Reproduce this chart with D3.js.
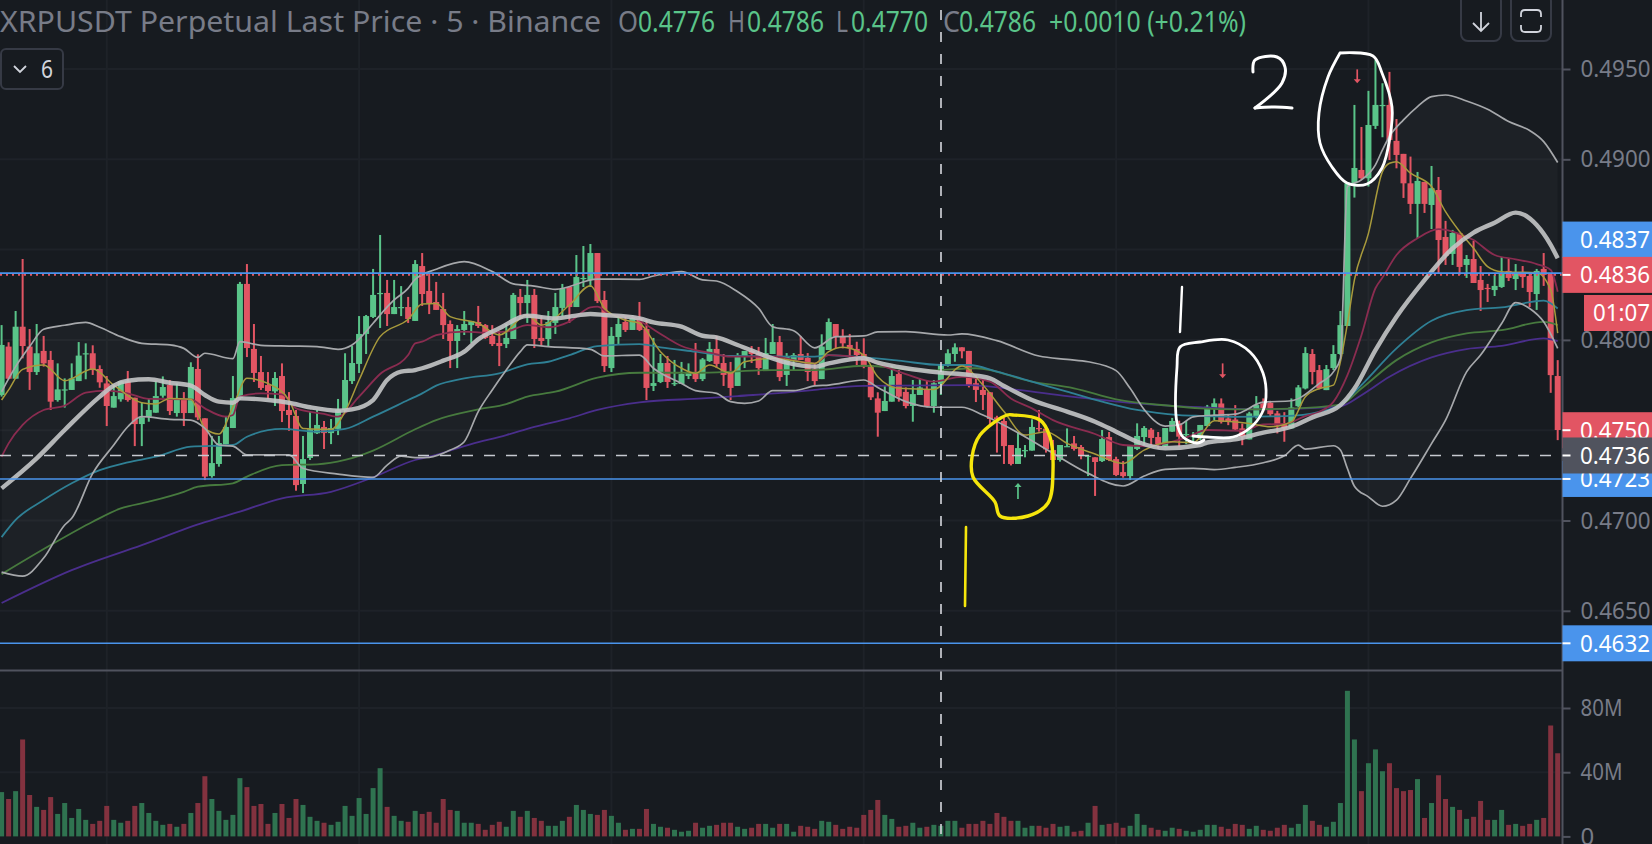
<!DOCTYPE html>
<html><head><meta charset="utf-8">
<script src="https://cdn.jsdelivr.net/npm/d3@7"></script>
<style>html,body{margin:0;background:#171b20;overflow:hidden}svg{display:block}</style>
</head><body><svg id="chart" width="1652" height="844"></svg>
<script>
// Quotes are stored in hundred-thousandths of a dollar (47695 = 0.47695).
const QUOTE_UNIT = 1e-5;

const opens = [47695,47963,47785,48073,47963,47822,47939,47889,47667,47723,47723,47772,47924,47926,47839,47759,47625,47671,47771,47680,47534,47575,47597,47691,47750,47595,47671,47595,47839,47566,47246,47313,47422,47512,47678,48310,47950,47822,47750,47715,47800,47612,47579,47202,47346,47483,47518,47484,47507,47612,47772,47867,48033,48127,48258,48260,48143,48180,48182,48105,48409,48271,48210,48171,48088,47994,48055,48082,48099,48082,48022,47983,47977,48005,48238,48204,48249,48011,48005,48094,48177,48293,48182,48341,48332,48481,48221,47844,48016,48099,48055,48121,48060,47745,47767,47872,47759,47756,47800,47822,47783,47883,47950,47872,47822,47745,47905,47939,47927,47833,47922,47988,47806,47889,47922,47900,47839,47783,47944,48088,48022,47972,47950,47922,47861,47676,47606,47658,47811,47712,47634,47695,47728,47634,47756,47857,47922,47959,47939,47760,47723,47710,47571,47551,47418,47313,47388,47387,47512,47508,47390,47335,47410,47427,47407,47357,47350,47329,47462,47340,47268,47246,47396,47462,47503,47462,47412,47492,47538,47477,47466,47464,47523,47621,47648,47565,47559,47510,47449,47574,47648,47652,47593,47537,47510,47633,47731,47922,47833,47722,47844,47922,48077,48867,48941,48895,49185,49299,49301,49102,49030,48867,48753,48875,48747,48830,48570,48476,48592,48415,48448,48332,48288,48276,48293,48382,48337,48371,48354,48254,48393,48369,47800];
const highs = [48082,47987,48160,48448,48060,48088,48022,47939,47870,47787,47870,47988,47981,47970,47859,47800,47750,47771,47828,47680,47652,47676,47771,47798,47778,47759,47711,47876,47920,47566,47468,47468,47579,47800,48321,48420,48088,47911,47822,47822,47870,47711,47612,47468,47601,47612,47551,47562,47673,47926,47966,48132,48138,48393,48581,48332,48332,48298,48238,48442,48481,48365,48321,48260,48108,48082,48160,48105,48188,48088,48082,48049,48088,48260,48282,48332,48282,48132,48160,48260,48310,48298,48470,48520,48531,48481,48271,48071,48132,48132,48138,48210,48110,48011,47922,47911,47889,47878,47870,47983,47900,47988,48022,47922,47878,47927,47939,47966,47961,48011,48088,48022,47927,47927,48022,47927,47872,48031,48119,48088,48059,48033,47990,48009,47861,47710,47750,47857,47833,47737,47778,47787,47778,47778,47861,47948,47981,47959,47939,47806,47778,47710,47580,47571,47418,47490,47418,47560,47612,47520,47446,47418,47510,47468,47418,47363,47350,47501,47490,47353,47329,47412,47538,47523,47512,47490,47512,47568,47553,47551,47490,47529,47640,47676,47676,47589,47639,47537,47602,47689,47676,47657,47607,47600,47676,47750,47960,47949,47861,47861,47971,48160,48867,49301,49179,49379,49550,49421,49484,49223,49030,49015,48930,48875,48963,48902,48659,48609,48592,48470,48548,48409,48310,48360,48459,48448,48420,48409,48376,48393,48481,48369,47888];
const lows = [47686,47782,47785,47898,47723,47806,47852,47612,47658,47625,47723,47772,47782,47806,47735,47523,47625,47658,47658,47412,47412,47547,47597,47680,47584,47575,47523,47595,47556,47224,47237,47298,47422,47512,47667,47905,47767,47723,47673,47634,47545,47497,47165,47152,47335,47479,47396,47423,47473,47601,47756,47817,47922,48121,48066,48077,48143,48132,48094,48105,48188,48143,48166,48005,47844,47844,48027,47983,48066,48005,47966,47855,47955,48005,48121,48094,47955,47966,47966,48033,48132,48094,48182,48293,48293,48204,47822,47822,47977,48044,48055,48049,47667,47717,47761,47734,47745,47756,47783,47767,47772,47878,47844,47745,47667,47745,47844,47872,47806,47833,47922,47772,47745,47833,47889,47772,47745,47783,47944,47953,47953,47898,47861,47843,47667,47464,47606,47658,47658,47621,47547,47695,47627,47597,47695,47852,47879,47898,47737,47656,47612,47529,47376,47313,47305,47313,47350,47387,47492,47376,47316,47326,47409,47387,47339,47246,47136,47324,47329,47246,47237,47224,47390,47409,47412,47396,47407,47490,47409,47423,47427,47446,47523,47556,47537,47528,47497,47417,47449,47565,47602,47574,47482,47436,47510,47626,47726,47754,47726,47722,47833,47916,48077,48788,48886,48849,49168,49122,48996,48950,48786,48697,48564,48703,48614,48365,48415,48415,48360,48343,48315,48160,48210,48243,48288,48326,48276,48288,48182,48166,48299,47707,47445];
const closes = [47972,47785,48073,47966,47822,47926,47870,47658,47726,47726,47787,47913,47926,47833,47765,47634,47689,47771,47667,47534,47571,47612,47689,47739,47606,47678,47595,47850,47571,47243,47318,47429,47518,47678,48310,47955,47817,47734,47717,47789,47606,47584,47196,47340,47505,47529,47484,47512,47614,47778,47872,48033,48132,48249,48260,48143,48182,48182,48116,48420,48254,48204,48166,48082,47994,48060,48088,48105,48077,48011,47977,47966,48011,48249,48204,48249,48005,47994,48099,48182,48282,48182,48348,48343,48481,48215,47855,48022,48088,48055,48121,48055,47734,47761,47872,47767,47761,47811,47822,47783,47892,47950,47867,47806,47734,47911,47939,47922,47844,47927,47988,47794,47911,47916,47889,47822,47772,47963,48099,48018,47981,47953,47916,47852,47682,47597,47662,47800,47686,47634,47700,47737,47634,47760,47861,47926,47959,47937,47745,47723,47695,47562,47560,47412,47313,47401,47390,47518,47510,47394,47335,47418,47412,47396,47357,47359,47324,47451,47335,47252,47246,47412,47468,47512,47457,47423,47512,47551,47464,47479,47468,47529,47630,47649,47546,47546,47504,47463,47593,47639,47620,47589,47526,47510,47626,47737,47927,47822,47731,47838,47922,48082,48867,48952,48895,49190,49301,49301,49107,49024,48867,48753,48880,48753,48840,48553,48465,48592,48404,48448,48315,48276,48286,48299,48365,48343,48365,48348,48265,48382,48360,47805,47501];

// Volume per candle, in millions.
const volumes = [27.6,23.3,28.2,60.4,25.8,18.4,16.5,24.5,14,20.8,11.5,17.1,10.3,7.8,9.7,19,10.3,8.5,9.7,19,20.8,14.6,9.7,7.2,7.8,6,7.8,14.6,20.8,37.5,23.3,15.9,10.3,13.4,36.3,30.7,19,20.2,7.8,14.6,20.2,11.5,23.3,19.6,12.2,9.7,8.5,7.2,9.1,19,12.8,23.9,14,30.1,42.5,18.4,12.8,9.7,9.1,15.9,14,15.3,8.5,23.3,16.5,15.9,8.5,8.5,7.8,4.1,7.2,9.1,6,15.9,12.2,15.9,11.5,9.7,6.6,6.6,9.7,12.2,19.6,16.5,14,13.4,16.5,12.8,8.5,4.1,4.7,4.7,17.1,7.8,6,5.4,4.1,2.9,3.5,8.5,5.4,6.6,7.2,8.5,8.5,6,4.7,5.4,7.8,7.8,5.4,7.8,7.8,2.9,6.6,6,4.7,9.7,9.1,7.2,4.7,6,5.4,13.4,16.5,22.7,13.4,10.9,6,6.6,8.5,5.4,6,7.2,6.6,9.7,9.7,5.4,7.8,7.8,9.7,7.8,14.6,12.2,9.7,9.7,5.4,6.6,6.6,5.4,7.8,6,6.6,2.9,3.5,8.5,19,7.2,7.8,8.5,5.4,6.6,14,7.2,5.4,4.1,3.5,5.4,4.7,3.5,2.9,4.1,7.2,7.2,6,4.7,7.8,7.2,4.7,6.6,4.1,3.5,5.4,7.2,5.4,7.8,19.6,9.7,7.2,6,9.1,20.8,90.7,60.4,28.2,45.6,54.2,40.6,45.6,30.1,28.2,28.9,35.7,11.5,20.8,38.1,23.3,18.4,16.5,10.9,12.2,22.1,10.3,10.3,16.5,7.2,7.8,6.6,7.8,10.3,11.5,69.1,51.8];

// Indicator readings as [candle index, quote].
const upperBand = [[0,47713],[2,47852],[4,47963],[6,48059],[9,48081],[12,48097],[14,48070],[17,48018],[20,47981],[24,47972],[26,47953],[28,47903],[29,47926],[33,47896],[34,47990],[37,47970],[41,47966],[45,47963],[48,47948],[50,47972],[53,48092],[54,48138],[56,48221],[58,48285],[59,48335],[62,48391],[66,48433],[70,48378],[73,48310],[76,48298],[79,48280],[85,48337],[91,48335],[93,48354],[97,48378],[100,48332],[102,48326],[105,48267],[108,48175],[110,48073],[113,48051],[116,47956],[119,48018],[123,48022],[125,48044],[129,48046],[135,48027],[137,48033],[142,47996],[148,47911],[152,47892],[155,47879],[159,47830],[161,47732],[163,47615],[166,47523],[168,47529],[170,47574],[173,47583],[176,47589],[180,47655],[184,47663],[188,47759],[190,47823],[191,47897],[192,48849],[194,48886],[196,48969],[197,49052],[198,49126],[200,49218],[202,49292],[204,49347],[206,49356],[209,49323],[212,49277],[215,49209],[218,49159],[220,49098],[222,48982]];
const lowerBand = [[0,46714],[3,46692],[6,46792],[9,46975],[10,47012],[13,47261],[16,47418],[18,47519],[20,47575],[24,47560],[27,47556],[29,47510],[31,47418],[33,47412],[35,47363],[41,47363],[43,47289],[48,47257],[53,47239],[55,47307],[57,47357],[59,47348],[61,47350],[64,47390],[66,47436],[68,47603],[70,47723],[72,47833],[74,47935],[75,47972],[78,47963],[84,47948],[86,47911],[91,47916],[93,47843],[97,47759],[99,47719],[102,47704],[104,47658],[106,47649],[108,47662],[110,47719],[113,47719],[116,47745],[118,47750],[123,47778],[125,47737],[129,47658],[133,47627],[137,47627],[140,47584],[146,47464],[150,47372],[155,47261],[160,47191],[163,47246],[166,47283],[170,47289],[173,47282],[176,47294],[180,47320],[183,47358],[185,47417],[186,47395],[190,47414],[191,47390],[192,47288],[193,47190],[195,47131],[197,47079],[199,47113],[201,47233],[204,47426],[206,47556],[209,47823],[211,47916],[214,48091],[216,48206],[218,48174],[220,48100],[222,47953]];
const fastAverage = [[0,47667],[1,47723],[3,47837],[6,47861],[9,47774],[13,47839],[16,47750],[20,47652],[22,47645],[24,47676],[27,47671],[29,47510],[31,47479],[33,47630],[35,47787],[38,47759],[41,47667],[43,47510],[47,47505],[49,47603],[51,47778],[54,48018],[58,48114],[60,48199],[62,48202],[64,48129],[68,48092],[71,48027],[75,48138],[77,48082],[81,48193],[84,48300],[86,48175],[89,48110],[91,48092],[94,47935],[97,47843],[99,47815],[101,47861],[104,47815],[106,47879],[110,47898],[116,47870],[118,47935],[120,47959],[123,47916],[125,47796],[128,47732],[133,47726],[137,47855],[140,47750],[143,47603],[146,47473],[149,47492],[152,47427],[156,47368],[160,47316],[163,47390],[167,47436],[170,47431],[173,47552],[178,47537],[181,47519],[184,47546],[186,47685],[188,47731],[190,47750],[191,47879],[192,48091],[193,48332],[195,48590],[197,48932],[198,48978],[199,48987],[201,48923],[204,48849],[206,48710],[208,48600],[210,48507],[212,48406],[214,48378],[219,48372],[221,48276],[222,48037]];
const crimsonAverage = [[0,47353],[1,47427],[3,47529],[6,47612],[9,47636],[12,47708],[15,47719],[18,47704],[21,47673],[27,47671],[29,47621],[32,47575],[33,47584],[34,47686],[37,47704],[40,47698],[42,47621],[46,47590],[48,47575],[51,47686],[54,47811],[58,47916],[59,47981],[60,47990],[62,48027],[66,48046],[69,48040],[72,48046],[75,48082],[78,48070],[81,48101],[84,48180],[85,48184],[87,48138],[90,48129],[92,48082],[95,48009],[97,47966],[101,47929],[104,47907],[110,47907],[116,47870],[118,47916],[123,47898],[126,47852],[129,47811],[133,47769],[137,47796],[141,47769],[144,47676],[147,47621],[150,47556],[156,47479],[160,47418],[163,47412],[166,47427],[169,47460],[172,47501],[177,47497],[180,47532],[183,47534],[186,47578],[188,47602],[190,47657],[192,47805],[194,48026],[196,48286],[197,48345],[199,48470],[202,48563],[205,48613],[207,48600],[210,48553],[213,48470],[216,48446],[219,48420],[221,48387],[222,48267]];
const basisAverage = [[0,47178],[5,47344],[9,47501],[14,47686],[16,47747],[18,47774],[21,47782],[24,47763],[27,47747],[29,47695],[31,47658],[33,47652],[34,47676],[38,47667],[41,47652],[44,47627],[48,47608],[50,47615],[53,47667],[55,47778],[57,47824],[59,47833],[60,47843],[63,47885],[66,47935],[68,48003],[71,48064],[75,48134],[79,48119],[81,48129],[84,48143],[86,48138],[91,48119],[93,48097],[97,48073],[100,48023],[102,48014],[105,47972],[109,47911],[112,47874],[116,47852],[118,47870],[123,47898],[125,47874],[129,47843],[134,47819],[138,47806],[141,47787],[143,47745],[147,47667],[152,47603],[156,47547],[159,47492],[162,47436],[166,47400],[171,47418],[172,47432],[176,47449],[180,47486],[184,47519],[187,47571],[191,47639],[193,47731],[196,47944],[199,48128],[203,48331],[207,48507],[210,48594],[213,48649],[216,48705],[219,48636],[221,48526],[222,48452]];
const tealAverage = [[0,46908],[2,47003],[6,47113],[10,47206],[14,47279],[18,47322],[22,47353],[27,47409],[33,47418],[35,47464],[40,47507],[45,47492],[49,47507],[53,47575],[58,47667],[60,47704],[62,47747],[66,47787],[71,47815],[75,47865],[78,47879],[81,47916],[85,47966],[91,47977],[94,47959],[99,47935],[104,47911],[116,47907],[118,47916],[123,47903],[128,47885],[134,47861],[138,47861],[142,47824],[147,47769],[152,47713],[157,47658],[162,47612],[168,47584],[171,47579],[176,47574],[183,47578],[188,47602],[191,47639],[194,47750],[199,47953],[204,48106],[209,48165],[214,48180],[220,48217],[222,48174]];
const greenAverage = [[0,46703],[7,46864],[13,46993],[17,47067],[21,47104],[26,47159],[28,47187],[33,47206],[35,47243],[40,47307],[45,47311],[49,47335],[53,47387],[59,47505],[62,47556],[68,47615],[72,47645],[75,47686],[79,47713],[85,47791],[91,47818],[100,47818],[110,47833],[116,47833],[123,47857],[132,47830],[139,47843],[147,47769],[153,47732],[159,47671],[167,47634],[171,47621],[176,47615],[184,47620],[191,47642],[194,47731],[199,47888],[204,47986],[209,48036],[214,48054],[220,48100],[222,48082]];
const purpleAverage = [[0,46543],[10,46725],[20,46864],[29,46991],[34,47049],[40,47123],[47,47159],[53,47239],[59,47335],[61,47353],[67,47423],[72,47473],[76,47519],[81,47566],[85,47612],[91,47654],[100,47676],[105,47689],[116,47723],[118,47732],[123,47745],[138,47750],[145,47723],[152,47689],[162,47649],[171,47627],[178,47615],[185,47620],[191,47633],[194,47694],[198,47796],[204,47903],[209,47949],[214,47967],[220,48008],[222,47993]];

// Alert arrows: [candle index, tail quote, tip quote].
const upArrows = [[145,47119,47207]];
const downArrows = [[193.4,49498,49421],[174.2,47870,47787]];

const priceTicks = [0.495,0.49,0.485,0.48,0.475,0.47,0.465];
const axisTickLabels = [0.495,0.49,0.48,0.47,0.465];
const volumeTicks = [40,80];
const verticalGridCandles = [15,51,87,123,159,195];
const levelPrices = {blueUpper:0.4837, last:0.4836, bar:0.4750, crosshair:0.4736, blueMid:0.4723, blueLower:0.4632};

const BG="#171b20", GREEN="#5ac489", RED="#e25563", BLUE="#4a94ec", GRID="#1e2228",
      AXIS="#50535e", MUTED="#787c88", VOL_GREEN="#2f7350", VOL_RED="#83323f";
const FONT="'Noto Sans', sans-serif";
const LEFT=0, AXIS_X=1562.5, WIDTH=1652, HEIGHT=844, PANE_TOP=670.5;

const svg=d3.select("#chart").style("font-family",FONT);
svg.append("rect").attr("width",WIDTH).attr("height",HEIGHT).attr("fill",BG);

const x=d3.scaleLinear().domain([0,opens.length-1]).range([1.6,1557.7]);
const y=d3.scaleLinear().domain([0.465,0.495]).range([610.8,69]);
const yVol=d3.scaleLinear().domain([0,80]).range([836.4,708]);
const py=q=>y(q*QUOTE_UNIT);

// grid
const grid=svg.append("g").attr("stroke",GRID).attr("stroke-width",2);
grid.selectAll("line.h").data(priceTicks).join("line").attr("x1",LEFT).attr("x2",AXIS_X).attr("y1",y).attr("y2",y);
grid.selectAll("line.vv").data(volumeTicks,d=>"v"+d).join("line").attr("x1",LEFT).attr("x2",AXIS_X).attr("y1",yVol).attr("y2",yVol);
grid.selectAll("line.v").data(verticalGridCandles,d=>"c"+d).join("line").attr("x1",d=>x(d)).attr("x2",d=>x(d)).attr("y1",0).attr("y2",HEIGHT);

// Bollinger fill and lines
const curve=d3.curveMonotoneX;
const line=d3.line().x(d=>x(d[0])).y(d=>py(d[1])).curve(curve);
const loop=line(upperBand)+"L"+line(lowerBand.slice().reverse()).slice(1)+"Z";
svg.append("path").attr("d",loop).attr("fill","#ffffff").attr("fill-opacity",0.028);

// volume bars
const isUp=i=>closes[i]>=opens[i];
svg.append("g").selectAll("rect").data(volumes).join("rect")
  .attr("x",(d,i)=>x(i)-2.5).attr("width",5)
  .attr("y",d=>yVol(d)).attr("height",d=>yVol(0)-yVol(d))
  .attr("fill",(d,i)=>isUp(i)?VOL_GREEN:VOL_RED);

// candles
const candles=svg.append("g").selectAll("g").data(opens).join("g")
  .attr("fill",(d,i)=>isUp(i)?GREEN:RED);
candles.append("rect").attr("x",(d,i)=>x(i)-1).attr("width",2)
  .attr("y",(d,i)=>y(highs[i]*QUOTE_UNIT)).attr("height",(d,i)=>y(lows[i]*QUOTE_UNIT)-y(highs[i]*QUOTE_UNIT));
candles.append("rect").attr("x",(d,i)=>x(i)-3).attr("width",6)
  .attr("y",(d,i)=>py(Math.max(opens[i],closes[i])))
  .attr("height",(d,i)=>Math.max(1.2,Math.abs(py(opens[i])-py(closes[i]))));

// indicators
const drawn=[[purpleAverage,"#4a2e8c",1.8],[greenAverage,"#477a3e",1.8],[tealAverage,"#2f8095",1.8],
  [crimsonAverage,"#8a2c50",1.8],[fastAverage,"#a89a3c",1.5],[upperBand,"#a6a8ab",1.7],[lowerBand,"#a6a8ab",1.7]];
drawn.forEach(([d,c,w])=>svg.append("path").attr("d",line(d)).attr("fill","none").attr("stroke",c).attr("stroke-width",w));
svg.append("path").attr("d",line(basisAverage)).attr("fill","none").attr("stroke","#c4c5c7").attr("stroke-opacity",0.9).attr("stroke-width",4.4);

// horizontal price levels
const hl=(p,c,w,dash)=>svg.append("line").attr("x1",0).attr("x2",AXIS_X).attr("y1",y(p)).attr("y2",y(p))
  .attr("stroke",c).attr("stroke-width",w).attr("stroke-dasharray",dash||null);
hl(levelPrices.blueUpper,BLUE,1.6);
hl(levelPrices.last,RED,1.6,"2,4");
hl(levelPrices.blueMid,BLUE,1.6);
hl(levelPrices.blueLower,BLUE,1.6);
hl(levelPrices.crosshair,"#c6c9d0",1.4,"11,11");

// crosshair
svg.append("line").attr("x1",941).attr("x2",941).attr("y1",10).attr("y2",HEIGHT)
  .attr("stroke","#d6d8de").attr("stroke-width",1.6).attr("stroke-dasharray","10,12");

// alert arrows
function arrow(a,color){
  const [i,q0,q1]=a, px=x(i), y0=py(q0), y1=py(q1), s=y1>y0?1:-1;
  svg.append("line").attr("x1",px).attr("x2",px).attr("y1",y0).attr("y2",y1-s*3).attr("stroke",color).attr("stroke-width",1.7);
  svg.append("path").attr("fill",color).attr("d",d3.line()([[px-3.5,y1-s*4],[px+3.5,y1-s*4],[px,y1]]));
}
upArrows.forEach(a=>arrow(a,GREEN));
downArrows.forEach(a=>arrow(a,RED));

// hand-drawn marks
const hand=d3.line().curve(d3.curveCatmullRom.alpha(0.5));
const stroke=(pts,c,w)=>svg.append("path").attr("d",hand(pts)).attr("fill","none").attr("stroke",c).attr("stroke-width",w).attr("stroke-linecap","round").attr("stroke-linejoin","round");
stroke([[1013,415],[1007,415],[980,435],[972,457],[973,477],[995,502],[1000,516],[1028,516],[1048,503],[1053,470],[1050,437],[1040,420],[1013,415]],"#f5e50c",3.4);
stroke([[966,527],[965,606]],"#f5e50c",2.6);
stroke([[1204,440],[1197,443],[1183,437],[1177,423],[1177,367],[1180,347],[1200,342],[1228,340],[1250,352],[1263,373],[1266,397],[1262,413],[1250,428],[1233,437],[1207,437],[1193,436]],"#ffffff",2.8);
stroke([[1182,287],[1180,332]],"#ffffff",2.4);
stroke([[1340,53],[1373,56],[1382,73],[1392,107],[1390,137],[1382,168],[1367,184],[1347,183],[1332,167],[1320,143],[1319,113],[1328,77],[1340,53]],"#ffffff",2.8);
stroke([[1253,72],[1255,60],[1277,57],[1285,67],[1282,83],[1255,108]],"#ffffff",3);
stroke([[1255,108],[1275,107],[1292,108]],"#ffffff",3);

// axes frame
svg.append("rect").attr("x",AXIS_X).attr("y",0).attr("width",WIDTH-AXIS_X).attr("height",HEIGHT).attr("fill",BG);
svg.append("line").attr("x1",0).attr("x2",AXIS_X).attr("y1",PANE_TOP).attr("y2",PANE_TOP).attr("stroke",AXIS).attr("stroke-width",2);
svg.append("line").attr("x1",AXIS_X).attr("x2",AXIS_X).attr("y1",0).attr("y2",HEIGHT).attr("stroke",AXIS).attr("stroke-width",2);

// Narrows a label to a set width while keeping its height.
const fit=(sel,len)=>sel.attr("textLength",len).attr("lengthAdjust","spacingAndGlyphs");
const styleAxis=(g,fn)=>{g.select(".domain").remove();
  g.selectAll(".tick line").attr("stroke",AXIS).attr("stroke-width",2);
  g.selectAll(".tick text").attr("fill",MUTED).attr("font-size",24).attr("font-family",FONT).attr("x",18);
  fn(g.selectAll(".tick text"));};
svg.append("g").attr("transform",`translate(${AXIS_X},0)`)
  .call(d3.axisRight(y).tickValues(axisTickLabels).tickFormat(d3.format(".4f")).tickSize(8).tickPadding(9))
  .call(g=>styleAxis(g,t=>fit(t,70)));
svg.append("g").attr("transform",`translate(${AXIS_X},0)`)
  .call(d3.axisRight(yVol).tickValues([0,40,80]).tickFormat(d=>d?d+"M":"0").tickSize(8).tickPadding(9))
  .call(g=>styleAxis(g,t=>t.filter(d=>d).call(fit,42)));

// price tags
function tag(price,fill,textFill,shift,label){
  const cy=y(price)+shift;
  svg.append("rect").attr("x",AXIS_X).attr("y",cy-18).attr("width",WIDTH-AXIS_X).attr("height",36).attr("fill",fill);
  fit(svg.append("text").attr("x",1580).attr("y",cy).attr("dy","0.35em").attr("fill",textFill).attr("font-size",24).text(label),70);
  svg.append("line").attr("x1",AXIS_X).attr("x2",AXIS_X+8).attr("y1",y(price)).attr("y2",y(price)).attr("stroke","#fff").attr("stroke-width",2);
}
const fmt=d3.format(".4f");
tag(levelPrices.blueLower,BLUE,"#fff",0,fmt(levelPrices.blueLower));
tag(levelPrices.blueMid,BLUE,"#fff",0,fmt(levelPrices.blueMid));
tag(levelPrices.bar,RED,"#fff",0,fmt(levelPrices.bar));
tag(levelPrices.blueUpper,BLUE,"#fff",-33.5,fmt(levelPrices.blueUpper));
tag(levelPrices.last,RED,"#fff",0,fmt(levelPrices.last));
tag(levelPrices.crosshair,"#50535e","#fff",0,fmt(levelPrices.crosshair));
svg.append("rect").attr("x",1584).attr("y",295).attr("width",68).attr("height",36).attr("fill",RED);
fit(svg.append("text").attr("x",1593).attr("y",313).attr("dy","0.35em").attr("fill","#fff").attr("font-size",24).text("01:07"),57);

// header legend
const head=svg.append("g").attr("font-size",29);
const txt=(xp,s,c,len)=>{const t=head.append("text").attr("x",xp).attr("y",32).attr("fill",c).text(s);
  if(len) fit(t,len);return t;};
txt(0,"XRPUSDT Perpetual Last Price · 5 · Binance",MUTED,601);
txt(618,"O",MUTED,20); txt(638,"0.4776",GREEN,77);
txt(728,"H",MUTED,17); txt(747,"0.4786",GREEN,77);
txt(836,"L",MUTED,12); txt(851,"0.4770",GREEN,77);
txt(943,"C",MUTED,17); txt(959,"0.4786",GREEN,77);
txt(1049,"+0.0010 (+0.21%)",GREEN,197);

// indicator collapse button
svg.append("rect").attr("x",1).attr("y",49).attr("width",62).attr("height",40).attr("rx",5).attr("fill",BG).attr("stroke","#363a45").attr("stroke-width",2);
svg.append("path").attr("d",d3.line()([[14,66],[20,72],[26,66]])).attr("fill","none").attr("stroke","#d1d4dc").attr("stroke-width",1.8);
fit(svg.append("text").attr("x",41).attr("y",78).attr("fill","#d1d4dc").attr("font-size",26).text("6"),12);

// top-right toolbar buttons
[[1461,1],[1511,1]].forEach(([bx])=>svg.append("rect").attr("x",bx).attr("y",-6).attr("width",40).attr("height",47).attr("rx",7).attr("fill",BG).attr("stroke","#363a45").attr("stroke-width",2));
svg.append("path").attr("d","M1481 12V31M1473 23L1481 31L1489 23").attr("fill","none").attr("stroke","#d1d4dc").attr("stroke-width",1.8);
svg.append("path").attr("d","M1521 17V14Q1521 10 1525 10H1537Q1541 10 1541 14V17M1521 25V28Q1521 32 1525 32H1537Q1541 32 1541 28V25").attr("fill","none").attr("stroke","#d1d4dc").attr("stroke-width",1.8);
</script></body></html>
